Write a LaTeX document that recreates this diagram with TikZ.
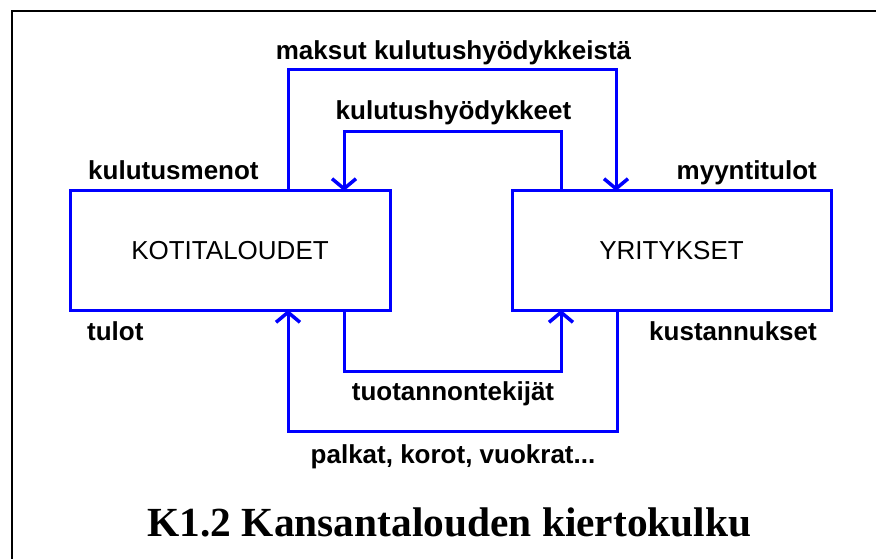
\documentclass[tikz,border=0pt]{standalone}
\usepackage{fontspec}
\setmainfont{Liberation Serif}
\setsansfont{Liberation Sans}
\usetikzlibrary{arrows.meta}
\definecolor{flowblue}{RGB}{0,0,255}
\tikzset{
  sector/.style={draw=flowblue, line width=3pt, minimum width=320pt, minimum height=119pt,
    outer sep=0pt, inner sep=0pt, font=\sffamily\fontsize{26}{30}\selectfont},
  flow/.style={draw=flowblue, line width=3pt, -{Straight Barb[length=10pt,width=24pt,line width=3.5pt]}},
  lbl/.style={inner sep=0pt, font=\sffamily\bfseries\fontsize{26}{30}\selectfont},
  ttl/.style={inner sep=0pt, font=\rmfamily\bfseries\fontsize{41.4}{48}\selectfont}
}
\begin{document}
\begin{tikzpicture}[x=1pt,y=-1pt]
\useasboundingbox (0,0) rectangle (876,559);
\fill[white] (0,0) rectangle (876,559);
\draw[line width=2pt] (876,11.5) -- (11.5,11.5) -- (11.5,559);

\node[sector] (K) at (230,250.5) {KOTITALOUDET};
\node[sector, minimum width=319pt] (Y) at (671.5,250.5) {YRITYKSET};

% outer top loop
\draw[flow] ([xshift=58pt]K.north) -- ++(0,-121) -| ([xshift=-55.5pt]Y.north);
% inner top loop
\draw[flow] ([xshift=-110.5pt]Y.north) -- ++(0,-59) -| ([xshift=114pt]K.north);
% inner bottom loop
\draw[flow] ([xshift=114pt]K.south) -- ++(0,61) -| ([xshift=-110.5pt]Y.south);
% outer bottom loop
\draw[flow] ([xshift=-54.5pt]Y.south) -- ++(0,121) -| ([xshift=58pt]K.south);

\node[lbl, anchor=base] (l1) at (453.5,60) {maksut kulutushyödykkeistä};
\node[lbl, anchor=base] (l2) at (453.5,120) {kulutushyödykkeet};
\node[lbl, anchor=base west] (l3) at (88,180) {kulutusmenot};
\node[lbl, anchor=base east] (l4) at (817,180) {myyntitulot};
\node[lbl, anchor=base west] (l5) at (87,340) {tulot};
\node[lbl, anchor=base east] (l6) at (817,340) {kustannukset};
\node[lbl, anchor=base] (l7) at (453,400) {tuotannontekijät};
\node[lbl, anchor=base] (l8) at (453,463) {palkat, korot, vuokrat...};
\node[ttl, anchor=base] (t) at (449.5,536) {K1.2 Kansantalouden kiertokulku};
\end{tikzpicture}
\end{document}
